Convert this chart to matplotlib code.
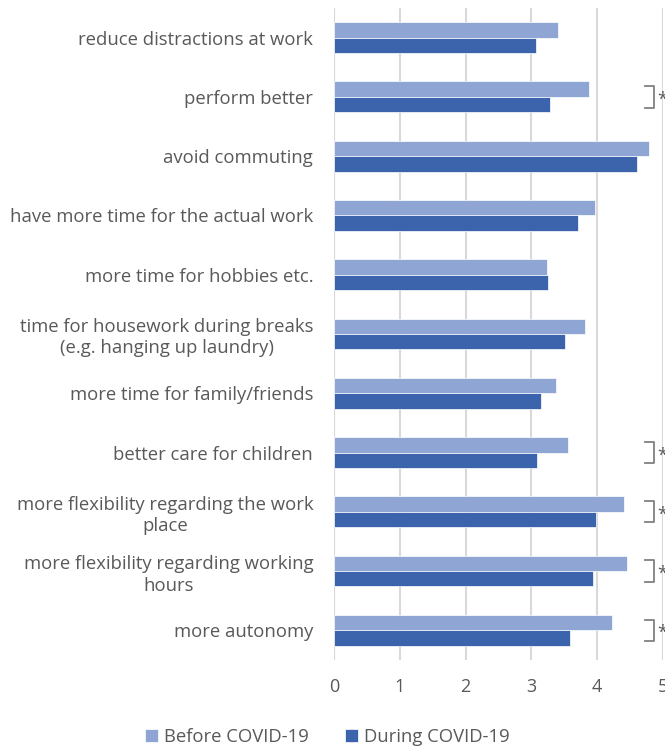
import matplotlib.pyplot as plt
import numpy as np

plt.rcParams['font.family'] = ['Open Sans', 'DejaVu Sans']

labels = ['reduce distractions at work',
          'perform better',
          'avoid commuting',
          'have more time for the actual work',
          'more time for hobbies etc.',
          'time for housework during breaks\n(e.g. hanging up laundry)',
          'more time for family/friends',
          'better care for children',
          'more flexibility regarding the work\nplace',
          'more flexibility regarding working\nhours',
          'more autonomy']
before = [3.40, 3.88, 4.78, 3.97, 3.24, 3.81, 3.38, 3.56, 4.41, 4.46, 4.22]
during = [3.07, 3.28, 4.60, 3.71, 3.25, 3.51, 3.15, 3.09, 3.98, 3.93, 3.59]
signif = [False, True, False, False, False, False, False, True, True, True, True]

c_before = '#8FA5D4'
c_during = '#3B64AC'
txt = '#595959'

fig = plt.figure(figsize=(6.65, 7.46), dpi=100)
ax = fig.add_axes([0.5023, 0.1153, 0.4947, 0.874])

y = np.arange(len(labels))
h = 0.26
ax.barh(y - h/2, before, height=h, color=c_before, edgecolor='white', linewidth=0.5, label='Before COVID-19', zorder=3)
ax.barh(y + h/2, during, height=h, color=c_during, edgecolor='white', linewidth=0.5, label='During COVID-19', zorder=3)

ax.set_xlim(0, 5)
ax.set_ylim(len(labels) - 0.5, -0.5)
ax.set_yticks(y)
ax.set_yticklabels(labels, fontsize=13.3, color=txt, multialignment='center', linespacing=1.25)
ax.set_xticks(range(6))
ax.tick_params(axis='x', labelsize=13, colors=txt, length=0, pad=13)
ax.tick_params(axis='y', length=0, pad=15)
ax.grid(axis='x', color='#D9D9D9', linewidth=1.5, zorder=0)
for s in ax.spines.values():
    s.set_visible(False)
ax.axvline(0, color='#D9D9D9', linewidth=1.5, zorder=1)

# significance brackets
for i, sig in enumerate(signif):
    if not sig:
        continue
    top, bot = i - h + 0.08, i + h - 0.08
    ax.plot([4.73, 4.87, 4.87, 4.73], [top, top, bot, bot], color='#808080', linewidth=1.3,
            clip_on=False, zorder=4)
    ax.text(4.91, i + 0.05, '*', fontsize=13, color=txt, va='center', ha='left', clip_on=False)

ax.legend(loc='upper center', bbox_to_anchor=(-0.02, -0.079), ncol=2, frameon=False,
          fontsize=13.3, labelcolor=txt, handlelength=0.7, handleheight=0.7,
          handletextpad=0.3, columnspacing=2.0)

fig.savefig('out.png', dpi=100)
